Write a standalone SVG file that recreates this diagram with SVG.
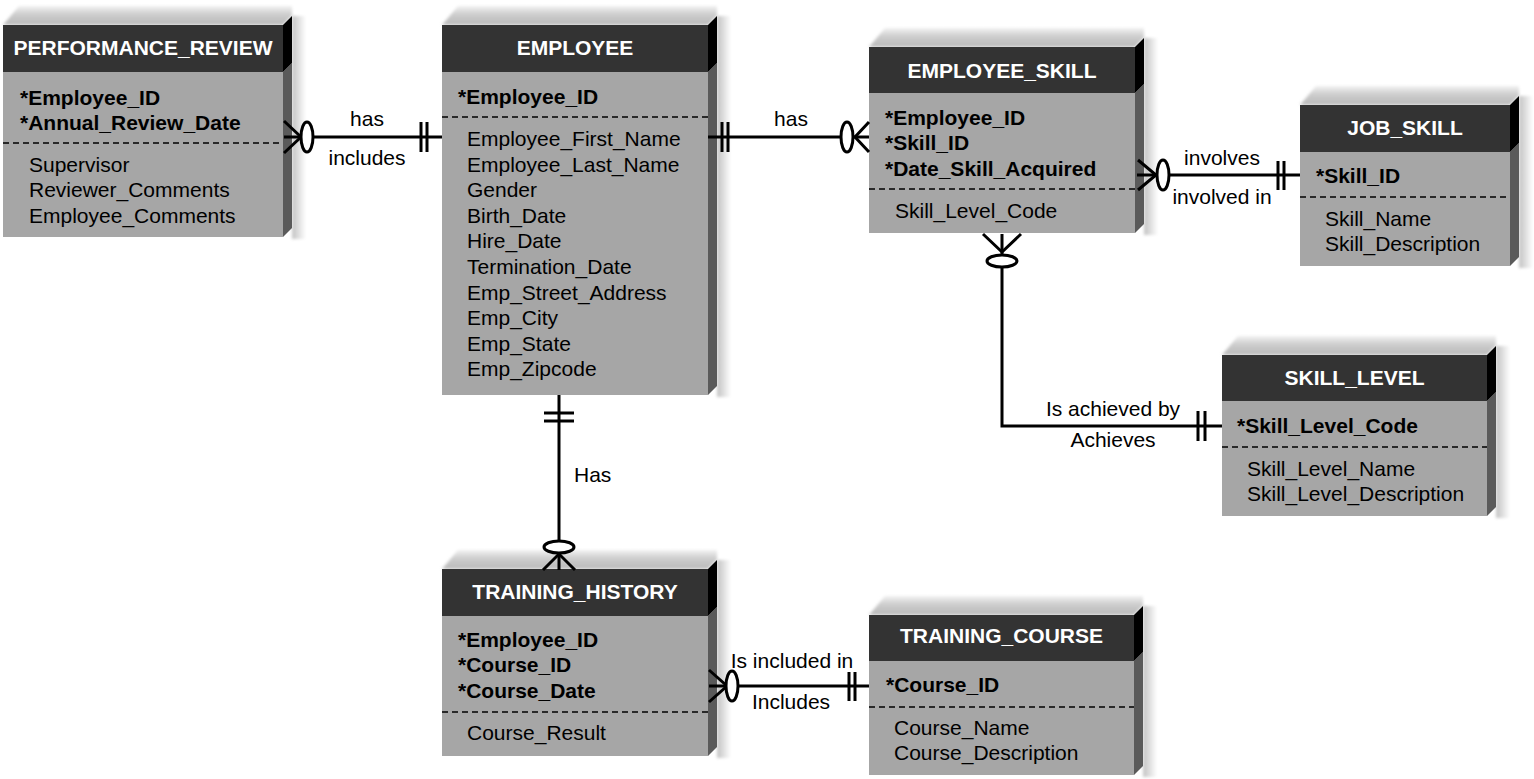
<svg xmlns="http://www.w3.org/2000/svg" width="1534" height="779" viewBox="0 0 1534 779">
<defs>
<linearGradient id="gTop" x1="0" y1="1" x2="0" y2="0">
<stop offset="0" stop-color="#b9b9b9"/>
<stop offset="0.55" stop-color="#cdcdcd"/>
<stop offset="1" stop-color="#f2f2f2"/>
</linearGradient>
<linearGradient id="gShadow" x1="0" y1="0" x2="1" y2="0">
<stop offset="0" stop-color="#c2c2c2"/>
<stop offset="1" stop-color="#ffffff"/>
</linearGradient>
<filter id="soft" x="-20%" y="-50%" width="140%" height="200%">
<feGaussianBlur stdDeviation="1.4"/>
</filter>
<style>
text{font-family:"Liberation Sans",Arial,Helvetica,sans-serif;font-size:21px;fill:#000}
.title{font-weight:bold;fill:#fff;text-anchor:middle}
.key{font-weight:bold}
.lbl{text-anchor:middle}
.top{fill:url(#gTop);filter:url(#soft)}
.shadow{fill:url(#gShadow);filter:url(#soft)}
.hdr{fill:#333333}
.body{fill:#a6a6a6}
.sideb{fill:#5a5a5a}
.sideh{fill:#000000}
.sep{stroke:#000;stroke-width:1.3;stroke-dasharray:6 4}
.c{stroke:#000;stroke-width:3;fill:none}
.o{stroke:#000;stroke-width:3;fill:#fff}
</style>
</defs>
<rect width="1534" height="779" fill="#fff"/>

<g id="performance_review">
<polygon class="top" points="3,25 19,6 292,6 292,16 283,25"/>
<rect class="shadow" x="292" y="16" width="14" height="223"/>
<rect class="hdr" x="3" y="25" width="280" height="47"/>
<rect class="body" x="3" y="72" width="280" height="165"/>
<polygon class="sideb" points="283,72 292,63 292,228 283,237"/>
<polygon class="sideh" points="283,25 292,16 292,63 283,72"/>
<text class="title" x="143" y="55">PERFORMANCE_REVIEW</text>
<text class="key" x="20" y="105">*Employee_ID</text>
<text class="key" x="20" y="130">*Annual_Review_Date</text>
<line class="sep" x1="3" y1="143" x2="283" y2="143"/>
<text x="29" y="172">Supervisor</text>
<text x="29" y="197">Reviewer_Comments</text>
<text x="29" y="223">Employee_Comments</text>
</g>

<g id="employee">
<polygon class="top" points="442,25 458,6 717,6 717,16 708,25"/>
<rect class="shadow" x="717" y="16" width="14" height="381"/>
<rect class="hdr" x="442" y="25" width="266" height="47"/>
<rect class="body" x="442" y="72" width="266" height="323"/>
<polygon class="sideb" points="708,72 717,63 717,386 708,395"/>
<polygon class="sideh" points="708,25 717,16 717,63 708,72"/>
<text class="title" x="575" y="55">EMPLOYEE</text>
<text class="key" x="458" y="104">*Employee_ID</text>
<line class="sep" x1="442" y1="117" x2="708" y2="117"/>
<text x="467" y="146">Employee_First_Name</text>
<text x="467" y="172">Employee_Last_Name</text>
<text x="467" y="197">Gender</text>
<text x="467" y="223">Birth_Date</text>
<text x="467" y="248">Hire_Date</text>
<text x="467" y="274">Termination_Date</text>
<text x="467" y="300">Emp_Street_Address</text>
<text x="467" y="325">Emp_City</text>
<text x="467" y="351">Emp_State</text>
<text x="467" y="376">Emp_Zipcode</text>
</g>

<g id="employee_skill">
<polygon class="top" points="869,47 885,28 1144,28 1144,38 1135,47"/>
<rect class="shadow" x="1144" y="38" width="14" height="197"/>
<rect class="hdr" x="869" y="47" width="266" height="46"/>
<rect class="body" x="869" y="93" width="266" height="140"/>
<polygon class="sideb" points="1135,93 1144,84 1144,224 1135,233"/>
<polygon class="sideh" points="1135,47 1144,38 1144,84 1135,93"/>
<text class="title" x="1002" y="78">EMPLOYEE_SKILL</text>
<text class="key" x="885" y="125">*Employee_ID</text>
<text class="key" x="885" y="150">*Skill_ID</text>
<text class="key" x="885" y="176">*Date_Skill_Acquired</text>
<line class="sep" x1="869" y1="189" x2="1135" y2="189"/>
<text x="895" y="218">Skill_Level_Code</text>
</g>

<g id="job_skill">
<polygon class="top" points="1300,105 1316,86 1519,86 1519,96 1510,105"/>
<rect class="shadow" x="1519" y="96" width="14" height="172"/>
<rect class="hdr" x="1300" y="105" width="210" height="47"/>
<rect class="body" x="1300" y="152" width="210" height="114"/>
<polygon class="sideb" points="1510,152 1519,143 1519,257 1510,266"/>
<polygon class="sideh" points="1510,105 1519,96 1519,143 1510,152"/>
<text class="title" x="1405" y="135">JOB_SKILL</text>
<text class="key" x="1316" y="183">*Skill_ID</text>
<line class="sep" x1="1300" y1="197" x2="1510" y2="197"/>
<text x="1325" y="226">Skill_Name</text>
<text x="1325" y="251">Skill_Description</text>
</g>

<g id="skill_level">
<polygon class="top" points="1222,355 1238,336 1496,336 1496,346 1487,355"/>
<rect class="shadow" x="1496" y="346" width="14" height="172"/>
<rect class="hdr" x="1222" y="355" width="265" height="46"/>
<rect class="body" x="1222" y="401" width="265" height="115"/>
<polygon class="sideb" points="1487,401 1496,392 1496,507 1487,516"/>
<polygon class="sideh" points="1487,355 1496,346 1496,392 1487,401"/>
<text class="title" x="1354.5" y="385">SKILL_LEVEL</text>
<text class="key" x="1237" y="433">*Skill_Level_Code</text>
<line class="sep" x1="1222" y1="447" x2="1487" y2="447"/>
<text x="1247" y="476">Skill_Level_Name</text>
<text x="1247" y="501">Skill_Level_Description</text>
</g>

<g id="training_history">
<polygon class="top" points="442,569 458,550 717,550 717,560 708,569"/>
<rect class="shadow" x="717" y="560" width="14" height="198"/>
<rect class="hdr" x="442" y="569" width="266" height="47"/>
<rect class="body" x="442" y="616" width="266" height="140"/>
<polygon class="sideb" points="708,616 717,607 717,747 708,756"/>
<polygon class="sideh" points="708,569 717,560 717,607 708,616"/>
<text class="title" x="575" y="599">TRAINING_HISTORY</text>
<text class="key" x="458" y="647">*Employee_ID</text>
<text class="key" x="458" y="672">*Course_ID</text>
<text class="key" x="458" y="698">*Course_Date</text>
<line class="sep" x1="442" y1="712" x2="708" y2="712"/>
<text x="467" y="740">Course_Result</text>
</g>

<g id="training_course">
<polygon class="top" points="869,615 885,596 1143,596 1143,606 1134,615"/>
<rect class="shadow" x="1143" y="606" width="14" height="171"/>
<rect class="hdr" x="869" y="615" width="265" height="46"/>
<rect class="body" x="869" y="661" width="265" height="114"/>
<polygon class="sideb" points="1134,661 1143,652 1143,766 1134,775"/>
<polygon class="sideh" points="1134,615 1143,606 1143,652 1134,661"/>
<text class="title" x="1001.5" y="643">TRAINING_COURSE</text>
<text class="key" x="886" y="692">*Course_ID</text>
<line class="sep" x1="869" y1="707" x2="1134" y2="707"/>
<text x="894" y="735">Course_Name</text>
<text x="894" y="760">Course_Description</text>
</g>

<g id="connectors">
<!-- PERFORMANCE_REVIEW - EMPLOYEE -->
<line class="c" x1="284" y1="137" x2="442" y2="137"/>
<polyline class="c" points="284,121 301,137 284,153"/>
<ellipse class="o" cx="307" cy="137" rx="6" ry="15"/>
<line class="c" x1="421" y1="122" x2="421" y2="152"/>
<line class="c" x1="427" y1="122" x2="427" y2="152"/>
<text class="lbl" x="367" y="126">has</text>
<text class="lbl" x="367" y="165">includes</text>

<!-- EMPLOYEE - EMPLOYEE_SKILL -->
<line class="c" x1="708" y1="137" x2="869" y2="137"/>
<line class="c" x1="722" y1="122" x2="722" y2="152"/>
<line class="c" x1="728" y1="122" x2="728" y2="152"/>
<ellipse class="o" cx="847" cy="137" rx="6" ry="15"/>
<polyline class="c" points="869,122 855,137 869,152"/>
<text class="lbl" x="791" y="126">has</text>

<!-- EMPLOYEE_SKILL - JOB_SKILL -->
<line class="c" x1="1137" y1="175" x2="1300" y2="175"/>
<polyline class="c" points="1138,160 1156,175 1138,190"/>
<ellipse class="o" cx="1163" cy="175" rx="6" ry="15"/>
<line class="c" x1="1278" y1="161" x2="1278" y2="190"/>
<line class="c" x1="1284" y1="161" x2="1284" y2="190"/>
<text class="lbl" x="1222" y="165">involves</text>
<text class="lbl" x="1222" y="204">involved in</text>

<!-- EMPLOYEE_SKILL - SKILL_LEVEL -->
<polyline class="c" points="1002,234 1002,426 1222,426"/>
<polyline class="c" points="983,234 1002,252 1021,234"/>
<ellipse class="o" cx="1002" cy="261" rx="15" ry="6"/>
<line class="c" x1="1198" y1="411" x2="1198" y2="441"/>
<line class="c" x1="1205" y1="411" x2="1205" y2="441"/>
<text class="lbl" x="1113" y="416">Is achieved by</text>
<text class="lbl" x="1113" y="447">Achieves</text>

<!-- EMPLOYEE - TRAINING_HISTORY -->
<line class="c" x1="559" y1="395" x2="559" y2="570"/>
<line class="c" x1="544" y1="413" x2="574" y2="413"/>
<line class="c" x1="544" y1="421" x2="574" y2="421"/>
<ellipse class="o" cx="559" cy="547" rx="15" ry="6"/>
<polyline class="c" points="543,570 559,554 575,570"/>
<text x="574" y="482">Has</text>

<!-- TRAINING_HISTORY - TRAINING_COURSE -->
<line class="c" x1="709" y1="686" x2="869" y2="686"/>
<polyline class="c" points="709,670 727,686 709,702"/>
<ellipse class="o" cx="732" cy="686" rx="6" ry="15"/>
<line class="c" x1="849" y1="672" x2="849" y2="701"/>
<line class="c" x1="855" y1="672" x2="855" y2="701"/>
<text class="lbl" x="792" y="668">Is included in</text>
<text class="lbl" x="791" y="709">Includes</text>
</g>
</svg>
